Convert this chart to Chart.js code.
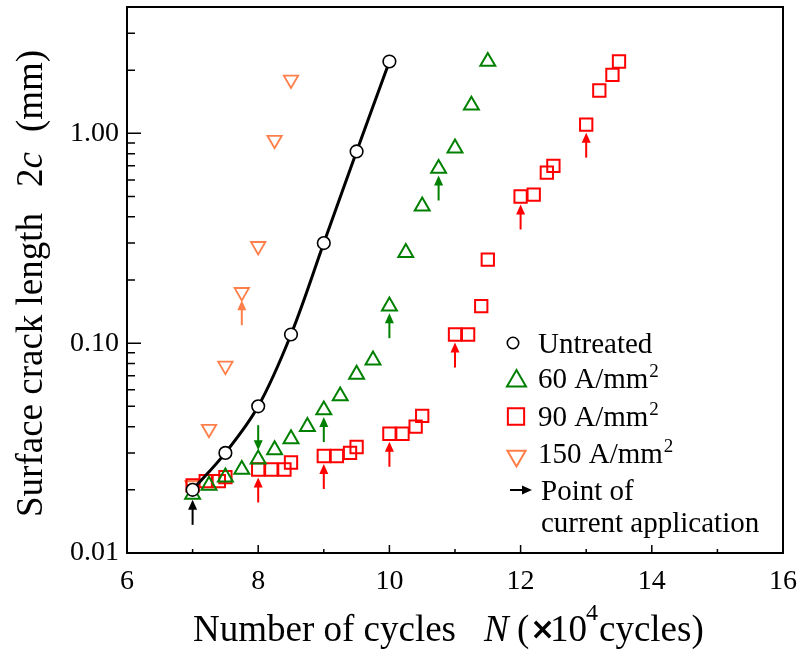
<!DOCTYPE html>
<html>
<head>
<meta charset="utf-8">
<script src="https://cdn.jsdelivr.net/npm/chart.js@4.4.0/dist/chart.umd.min.js"></script>
<style>
html,body{margin:0;padding:0;background:#fff;}
</style>
</head>
<body>
<canvas id="mychart" width="809" height="659"></canvas>
<script>
// data (N in 10^4 cycles, 2c in mm)
const untreatedX=[7,7.5,8,8.5,9,9.5,10];
const untreatedY=[0.020,0.030,0.050,0.11,0.30,0.82,2.2];
const a60X=[7,7.25,7.5,7.75,8,8.25,8.5,8.75,9,9.25,9.5,9.75,10,10.25,10.5,10.75,11,11.25,11.5];
const a60Y=[0.019,0.021,0.023,0.025,0.028,0.031,0.035,0.040,0.048,0.056,0.071,0.083,0.15,0.27,0.45,0.68,0.85,1.36,2.2];
const a90X=[7,7.2,7.4,7.5,8,8.2,8.4,8.5,9,9.2,9.4,9.5,10,10.2,10.4,10.5,11,11.2,11.4,11.5,12,12.2,12.4,12.5,13,13.2,13.4,13.5];
const a90Y=[0.021,0.022,0.022,0.023,0.025,0.025,0.025,0.027,0.029,0.029,0.030,0.032,0.037,0.037,0.040,0.045,0.11,0.11,0.15,0.25,0.50,0.51,0.65,0.70,1.1,1.6,1.9,2.2];
const a150X=[7,7.25,7.5,7.75,8,8.25,8.5];
const a150Y=[0.021,0.039,0.078,0.175,0.29,0.93,1.8];

// points of current application (x values of the marked points)
const arrowsUntreated=[7];
const arrows60=[9,10,10.75];
const arrows60Down=[8];
const arrows90=[8,9,10,11,12,13];
const arrows150=[7.75];

const xMajor=[6,8,10,12,14,16];
const xMinor=[7,9,11,13,15];
const yMajor=[0.01,0.1,1];
const yMinor=[0.02,0.03,0.04,0.05,0.06,0.07,0.08,0.09,0.2,0.3,0.4,0.5,0.6,0.7,0.8,0.9,2,3];

const GREEN='#008000', RED='#ff0000', ORANGE='#ff7f4a';
const SERIF='"Liberation Serif","Times New Roman",serif';

const toPts=(xs,ys)=>xs.map((x,i)=>({x:x,y:ys[i]}));
const yAt=(xs,ys,x)=>ys[xs.indexOf(x)];

function drawArrow(ctx,x,yTip,dir,color){
  // dir 1 = pointing up, -1 = pointing down
  const len=25, head=10, hw=4.5;
  ctx.save();
  ctx.strokeStyle=color; ctx.fillStyle=color; ctx.lineWidth=2;
  ctx.beginPath();
  ctx.moveTo(x,yTip+dir*(head-1));
  ctx.lineTo(x,yTip+dir*len);
  ctx.stroke();
  ctx.beginPath();
  ctx.moveTo(x,yTip);
  ctx.lineTo(x-hw,yTip+dir*head);
  ctx.lineTo(x+hw,yTip+dir*head);
  ctx.closePath();
  ctx.fill();
  ctx.restore();
}

function txt(ctx,s,x,y,size,style,family){
  ctx.font=(style?style+' ':'')+size+'px '+(family||SERIF);
  ctx.fillText(s,x,y);
  return ctx.measureText(s).width;
}

const decor={
  id:'decor',
  afterDatasetsDraw(chart){
    const ctx=chart.ctx, a=chart.chartArea, xs=chart.scales.x, ys=chart.scales.y;
    ctx.save();
    // frame
    ctx.strokeStyle='#000'; ctx.lineWidth=2;
    ctx.strokeRect(a.left,a.top,a.right-a.left,a.bottom-a.top);
    // inward ticks
    ctx.lineWidth=1.5;
    ctx.beginPath();
    xMajor.forEach(v=>{const p=xs.getPixelForValue(v);ctx.moveTo(p,a.bottom);ctx.lineTo(p,a.bottom-8);});
    xMinor.forEach(v=>{const p=xs.getPixelForValue(v);ctx.moveTo(p,a.bottom);ctx.lineTo(p,a.bottom-4);});
    yMajor.forEach(v=>{const p=ys.getPixelForValue(v);ctx.moveTo(a.left,p);ctx.lineTo(a.left+14,p);});
    yMinor.forEach(v=>{const p=ys.getPixelForValue(v);ctx.moveTo(a.left,p);ctx.lineTo(a.left+8,p);});
    ctx.stroke();

    // arrows
    const up=(xArr,sx,sy,color,gap)=>xArr.forEach(v=>{
      drawArrow(ctx,xs.getPixelForValue(v),ys.getPixelForValue(yAt(sx,sy,v))+gap,1,color);
    });
    up(arrowsUntreated,untreatedX,untreatedY,'#000',10);
    up(arrows60,a60X,a60Y,GREEN,7);
    up(arrows90,a90X,a90Y,RED,8);
    up(arrows150,a150X,a150Y,ORANGE,8);
    arrows60Down.forEach(v=>{
      drawArrow(ctx,xs.getPixelForValue(v),ys.getPixelForValue(yAt(a60X,a60Y,v))-9,-1,GREEN);
    });

    // legend
    const dp=Chart.helpers.drawPoint;
    ctx.lineWidth=1.6; ctx.strokeStyle='#000'; ctx.fillStyle='#fff';
    dp(ctx,{pointStyle:'circle',radius:5.7,borderWidth:1.6},513,343);
    ctx.strokeStyle=GREEN; ctx.lineWidth=2;
    dp(ctx,{pointStyle:'triangle',radius:11,borderWidth:2},516.5,381);
    ctx.strokeStyle=RED;
    dp(ctx,{pointStyle:'rect',radius:11.5,borderWidth:2},516,416.5);
    ctx.strokeStyle=ORANGE;
    dp(ctx,{pointStyle:'triangle',radius:10.5,rotation:180,borderWidth:2},516.5,456);
    // legend arrow
    ctx.strokeStyle='#000'; ctx.fillStyle='#000'; ctx.lineWidth=2;
    ctx.beginPath(); ctx.moveTo(510,490); ctx.lineTo(524,490); ctx.stroke();
    ctx.beginPath(); ctx.moveTo(532,490); ctx.lineTo(522,485.5); ctx.lineTo(522,494.5); ctx.closePath(); ctx.fill();

    ctx.fillStyle='#000'; ctx.textAlign='left'; ctx.textBaseline='alphabetic';
    txt(ctx,'Untreated',538,353,29);
    const lab=(s,y)=>{const w=txt(ctx,s,538,y,29);txt(ctx,'2',538+w+1,y-11,19);};
    lab('60 A/mm',388);
    lab('90 A/mm',426);
    lab('150 A/mm',463);
    txt(ctx,'Point of',541,500,29);
    txt(ctx,'current application',541,532,29);

    // x axis title
    const xb=641;
    txt(ctx,'Number of cycles',193,xb,37);
    txt(ctx,'N',484,xb,37,'italic');
    txt(ctx,'(',517,xb,37);
    txt(ctx,'\u00d7',530,xb-2,30,'bold','"DejaVu Sans",sans-serif');
    txt(ctx,'10',550,xb,37);
    txt(ctx,'4',586,xb-21,24);
    txt(ctx,'cycles)',599,xb,37);

    // y axis title (rotated)
    ctx.translate(42,517);
    ctx.rotate(-Math.PI/2);
    let p=0;
    p+=txt(ctx,'Surface crack length',p,0,37);
    p+=26;
    p+=txt(ctx,'2',p,0,37);
    p+=txt(ctx,'c',p,0,37,'italic');
    p+=20;
    txt(ctx,'(mm)',p,0,37);
    ctx.restore();
  }
};

const ctx=document.getElementById('mychart').getContext('2d');
let mychart=new Chart(ctx,{
  type:'scatter',
  data:{
    datasets:[
      {label:'Untreated',data:toPts(untreatedX,untreatedY),showLine:true,borderColor:'#000',borderWidth:3,
       tension:0.35,pointStyle:'circle',pointRadius:6.3,pointBackgroundColor:'#fff',pointBorderColor:'#000',pointBorderWidth:1.6},
      {label:'60 A/mm2',data:toPts(a60X,a60Y),pointStyle:'triangle',pointRadius:8.6,
       pointBackgroundColor:'rgba(0,0,0,0)',pointBorderColor:GREEN,pointBorderWidth:2},
      {label:'90 A/mm2',data:toPts(a90X,a90Y),pointStyle:'rect',pointRadius:8.7,
       pointBackgroundColor:'rgba(0,0,0,0)',pointBorderColor:RED,pointBorderWidth:2},
      {label:'150 A/mm2',data:toPts(a150X,a150Y),pointStyle:'triangle',pointRotation:180,pointRadius:8.3,
       pointBackgroundColor:'rgba(0,0,0,0)',pointBorderColor:ORANGE,pointBorderWidth:1.8}
    ]
  },
  options:{
    responsive:false,
    animation:false,
    layout:{autoPadding:false,padding:{left:0,top:7,right:22,bottom:0}},
    plugins:{legend:{display:false},tooltip:{enabled:false}},
    scales:{
      x:{
        type:'linear',min:6,max:16,
        afterBuildTicks:s=>{s.ticks=xMajor.map(v=>({value:v}));},
        afterFit:s=>{s.height=106;},
        grid:{display:false,drawTicks:false},
        border:{display:false},
        ticks:{color:'#000',font:{family:SERIF,size:28},padding:12,maxRotation:0,autoSkip:false}
      },
      y:{
        type:'logarithmic',min:0.01,max:4,
        afterBuildTicks:s=>{s.ticks=yMajor.map(v=>({value:v}));},
        afterFit:s=>{s.width=127;s.paddingTop=0;s.paddingBottom=0;},
        grid:{display:false,drawTicks:false},
        border:{display:false},
        ticks:{color:'#000',font:{family:SERIF,size:28},padding:8,autoSkip:false,
          callback:v=>Number(v).toFixed(2)}
      }
    }
  },
  plugins:[decor]
});
</script>
</body>
</html>
